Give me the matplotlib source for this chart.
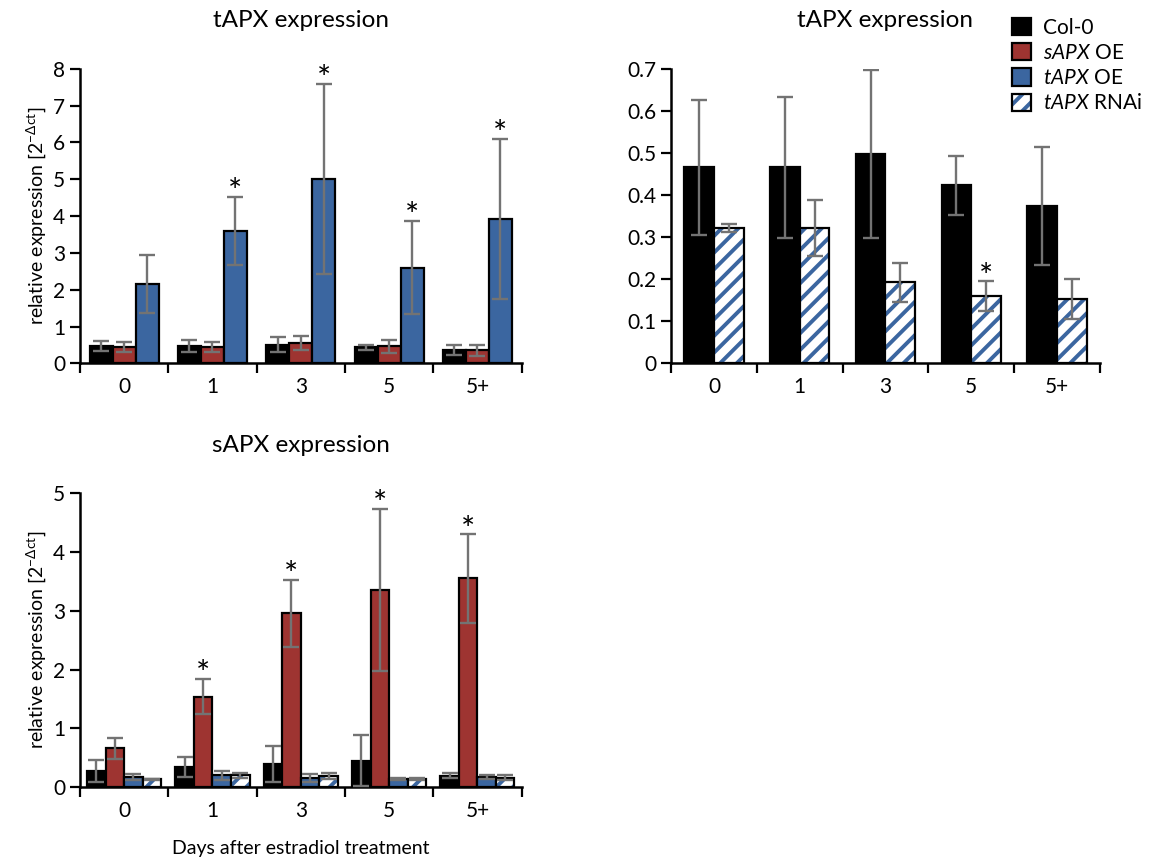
import matplotlib
matplotlib.use('Agg')
import matplotlib.pyplot as plt
from matplotlib.patches import Patch
import numpy as np

plt.rcParams['font.family'] = ['Lato', 'DejaVu Sans']
plt.rcParams['mathtext.fontset'] = 'custom'
plt.rcParams['mathtext.rm'] = 'Lato'
plt.rcParams['mathtext.it'] = 'Lato:italic'
plt.rcParams['mathtext.fallback'] = 'stix'
plt.rcParams['hatch.linewidth'] = 2.8

days = ['0', '1', '3', '5', '5+']

# tAPX expression, left panel
t_col = [0.48, 0.48, 0.51, 0.44, 0.37]
t_col_err = [0.14, 0.16, 0.20, 0.07, 0.13]
t_sox = [0.44, 0.44, 0.55, 0.46, 0.35]
t_sox_err = [0.13, 0.13, 0.20, 0.18, 0.14]
t_tox = [2.15, 3.59, 5.01, 2.60, 3.92]
t_tox_err = [0.79, 0.93, 2.58, 1.26, 2.17]
t_tox_star = [False, True, True, True, True]

# tAPX expression, right panel (Col-0 vs RNAi)
r_col = [0.466, 0.466, 0.497, 0.423, 0.374]
r_col_err = [0.16, 0.167, 0.20, 0.07, 0.14]
r_rnai = [0.322, 0.322, 0.193, 0.160, 0.153]
r_rnai_err = [0.009, 0.067, 0.046, 0.035, 0.047]
r_rnai_star = [False, False, False, True, False]

# sAPX expression
s_col = [0.27, 0.34, 0.39, 0.45, 0.19]
s_col_err = [0.19, 0.17, 0.30, 0.44, 0.04]
s_sox = [0.66, 1.54, 2.96, 3.36, 3.55]
s_sox_err = [0.18, 0.30, 0.57, 1.38, 0.75]
s_tox = [0.17, 0.20, 0.15, 0.14, 0.17]
s_tox_err = [0.05, 0.08, 0.07, 0.02, 0.04]
s_rnai = [0.13, 0.20, 0.18, 0.14, 0.16]
s_rnai_err = [0.01, 0.04, 0.05, 0.02, 0.04]
s_sox_star = [False, True, True, True, True]

BLACK = '#000000'
RED = '#9E3431'
BLUE = '#3B66A0'
ERR = '#737373'
ylab = r'relative expression [2$^{\mathrm{-\Delta ct}}$]'

x = np.arange(len(days))


def draw_bars(ax, pos, vals, errs, kind, w):
    if kind == 'rnai':
        ax.bar(pos, vals, w, color='white', edgecolor=BLUE, hatch='//', linewidth=0, zorder=2)
        ax.bar(pos, vals, w, color='none', edgecolor='black', linewidth=1.6, zorder=3)
    else:
        col = {'col': BLACK, 'sox': RED, 'tox': BLUE}[kind]
        ax.bar(pos, vals, w, color=col, edgecolor='black', linewidth=1.6, zorder=2)
    ax.errorbar(pos, vals, yerr=errs, fmt='none', ecolor=ERR, elinewidth=1.7,
                capsize=6, capthick=1.7, zorder=4)


def stars(ax, pos, vals, errs, flags, off):
    for p, v, e, f in zip(pos, vals, errs, flags):
        if f:
            ax.text(p, v + e + off, '*', ha='center', va='bottom', fontsize=24)


def style(ax, ymax, step, fmt):
    ax.set_xlim(-0.5, len(days) - 0.5)
    ax.set_ylim(0, ymax)
    ax.set_yticks(np.arange(0, ymax + step / 2, step))
    ax.set_yticklabels([fmt.format(v) for v in np.arange(0, ymax + step / 2, step)])
    ax.set_xticks(np.arange(-0.5, len(days)), minor=False)
    ax.set_xticklabels([''] * (len(days) + 1))
    ax.set_xticks(x, minor=True)
    ax.set_xticklabels(days, minor=True)
    ax.tick_params(axis='x', which='major', length=7, width=1.6, direction='out')
    ax.tick_params(axis='x', which='minor', length=0, pad=10, labelsize=15)
    ax.tick_params(axis='y', length=7, width=1.6, direction='out', labelsize=15)
    for s in ['top', 'right']:
        ax.spines[s].set_visible(False)
    for s in ['left', 'bottom']:
        ax.spines[s].set_linewidth(1.8)


fig = plt.figure(figsize=(11.59, 8.61), dpi=100)

ax1 = fig.add_axes([0.069, 0.578, 0.381, 0.342])
w = 0.26
draw_bars(ax1, x - w, t_col, t_col_err, 'col', w)
draw_bars(ax1, x, t_sox, t_sox_err, 'sox', w)
draw_bars(ax1, x + w, t_tox, t_tox_err, 'tox', w)
stars(ax1, x + w, t_tox, t_tox_err, t_tox_star, -0.3)
style(ax1, 8, 1, '{:.0f}')
ax1.set_ylabel(ylab, fontsize=14)
ax1.set_title('tAPX expression', fontsize=17.5, pad=30)

ax2 = fig.add_axes([0.579, 0.578, 0.370, 0.342])
w = 0.345
draw_bars(ax2, x - w / 2, r_col, r_col_err, 'col', w)
draw_bars(ax2, x + w / 2, r_rnai, r_rnai_err, 'rnai', w)
stars(ax2, x + w / 2, r_rnai, r_rnai_err, r_rnai_star, -0.027)
style(ax2, 0.7, 0.1, '{:g}')
ax2.set_title('tAPX expression', fontsize=17.5, pad=30)

ax3 = fig.add_axes([0.069, 0.086, 0.381, 0.341])
w = 0.21
draw_bars(ax3, x - 1.5 * w, s_col, s_col_err, 'col', w)
draw_bars(ax3, x - 0.5 * w, s_sox, s_sox_err, 'sox', w)
draw_bars(ax3, x + 0.5 * w, s_tox, s_tox_err, 'tox', w)
draw_bars(ax3, x + 1.5 * w, s_rnai, s_rnai_err, 'rnai', w)
stars(ax3, x - 0.5 * w, s_sox, s_sox_err, s_sox_star, -0.19)
style(ax3, 5, 1, '{:.0f}')
ax3.set_ylabel(ylab, fontsize=14)
ax3.set_xlabel('Days after estradiol treatment', fontsize=14, labelpad=14)
ax3.set_title('sAPX expression', fontsize=17.5, pad=30)

handles = [
    Patch(facecolor=BLACK, edgecolor='black', linewidth=1.6),
    Patch(facecolor=RED, edgecolor='black', linewidth=1.6),
    Patch(facecolor=BLUE, edgecolor='black', linewidth=1.6),
    (Patch(facecolor='white', edgecolor=BLUE, hatch='//', linewidth=0),
     Patch(facecolor='none', edgecolor='black', linewidth=1.6)),
]
labels = ['Col-0', r'$\mathit{sAPX}$ OE', r'$\mathit{tAPX}$ OE', r'$\mathit{tAPX}$ RNAi']
fig.legend(handles, labels, loc='upper left', bbox_to_anchor=(0.866, 0.989),
           frameon=False, fontsize=15, handlelength=0.9, handleheight=0.9,
           handletextpad=0.6, labelspacing=0.25, borderaxespad=0)

fig.savefig('out.png', dpi=100)
